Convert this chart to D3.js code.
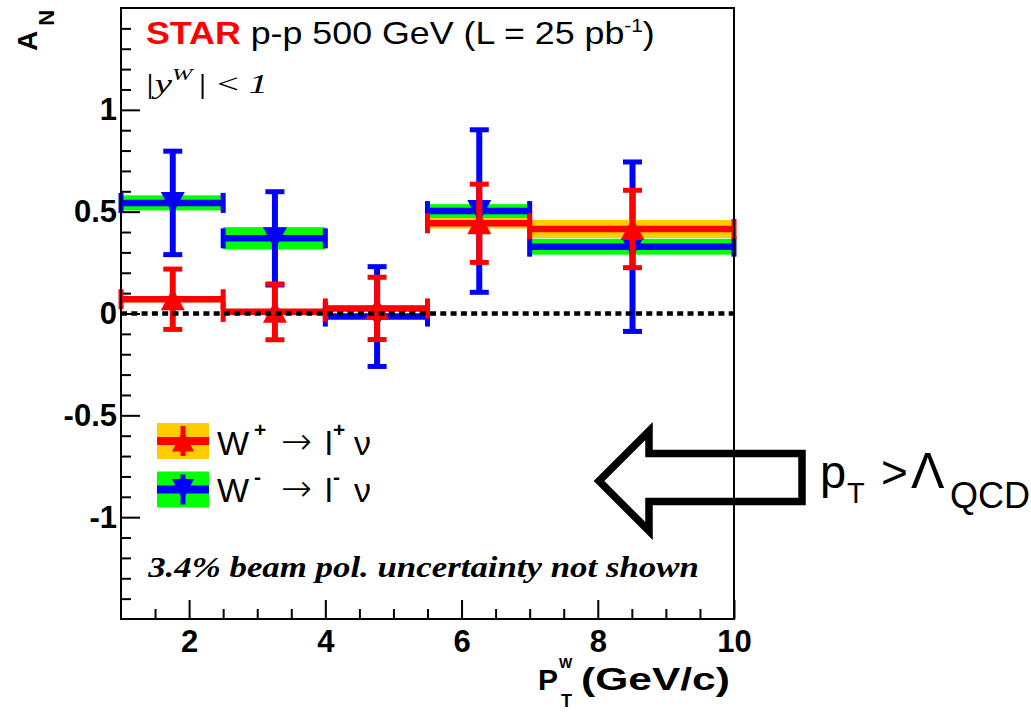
<!DOCTYPE html>
<html><head><meta charset="utf-8">
<script src="https://cdn.jsdelivr.net/npm/d3@7"></script>
<style>body{margin:0;background:#fff} svg{display:block}</style>
</head><body>
<svg id="c" width="1031" height="712"></svg>
<script>
// ---------- data ----------
const binLow  = [1, 2.5, 4, 5.5, 7];
const binHigh = [2.5, 4, 5.5, 7, 10];
const ptMean  = [1.76, 3.26, 4.76, 6.26, 8.51];
const wPlusAN   = [0.07, 0.008, 0.025, 0.443, 0.415];
const wPlusStat = [0.148, 0.137, 0.153, 0.192, 0.19];
const wPlusSys  = [0.015, 0.012, 0.015, 0.026, 0.044];
const wMinusAN   = [0.543, 0.369, -0.015, 0.503, 0.328];
const wMinusStat = [0.254, 0.229, 0.245, 0.399, 0.416];
const wMinusSys  = [0.037, 0.055, 0.012, 0.034, 0.039];
const xMajorTicks = [2, 4, 6, 8, 10];
const xTickLabels = ["2", "4", "6", "8", "10"];
const xMinorTicks = [1.5, 2.5, 3, 3.5, 4.5, 5, 5.5, 6.5, 7, 7.5, 8.5, 9, 9.5];
const yMajorTicks = [-1, -0.5, 0, 0.5, 1];
const yTickLabels = ["-1", "-0.5", "0", "0.5", "1"];
const yMinorTicks = [-1.4, -1.3, -1.2, -1.1, -0.9, -0.8, -0.7, -0.6, -0.4, -0.3, -0.2, -0.1,
                     0.1, 0.2, 0.3, 0.4, 0.6, 0.7, 0.8, 0.9, 1.1, 1.2, 1.3, 1.4];
const legendLabels = [["W", "+", "l", "+"], ["W", "-", "l", "-"]];

// ---------- layout ----------
const RED = "#ff0000", BLUE = "#0000ff", GREEN = "#00ff00", ORANGE = "#ffcc00";
const SANS = "'Liberation Sans', Arial, Helvetica, sans-serif";
const SERIF = "'Liberation Serif', 'Times New Roman', serif";
const svg = d3.select("#c");
const x = d3.scaleLinear().domain([1, 10]).range([121, 734]);
const y = d3.scaleLinear().domain([-1.5, 1.5]).range([619, 8]);

function fit(sel, x0, x1, base) {
  const bb = sel.node().getBBox();
  const s = (x1 - x0) / bb.width;
  sel.attr("transform", `translate(${x0 - bb.x * s},${base}) scale(${s},1)`);
  return s;
}

// ---------- axes ----------
function styleAxis(g) {
  g.select(".domain").remove();
  g.selectAll(".tick line").attr("stroke", "#000").attr("stroke-width", 2);
  g.selectAll(".tick text").attr("fill", "#000").attr("font-family", SANS)
    .attr("font-weight", "bold").attr("font-size", 31);
}
svg.append("g").attr("transform", `translate(0,${y(-1.5)})`)
  .call(d3.axisBottom(x).tickValues(xMinorTicks).tickSizeInner(-10).tickSizeOuter(0).tickFormat(""))
  .call(styleAxis);
svg.append("g").attr("transform", `translate(0,${y(-1.5)})`)
  .call(d3.axisBottom(x).tickValues(xMajorTicks).tickSizeInner(-19).tickSizeOuter(0).tickPadding(11)
    .tickFormat((d, i) => xTickLabels[i]))
  .call(styleAxis);
svg.append("g").attr("transform", `translate(${x(1)},0)`)
  .call(d3.axisLeft(y).tickValues(yMinorTicks).tickSizeInner(-10).tickSizeOuter(0).tickFormat(""))
  .call(styleAxis);
svg.append("g").attr("transform", `translate(${x(1)},0)`)
  .call(d3.axisLeft(y).tickValues(yMajorTicks).tickSizeInner(-19).tickSizeOuter(0).tickPadding(4)
    .tickFormat((d, i) => yTickLabels[i]))
  .call(styleAxis);

// ---------- data series ----------
function triPath(cx, cy, up, w, h) {
  const p = d3.path();
  if (up) { p.moveTo(cx, cy - h / 2); p.lineTo(cx + w / 2, cy + h / 2); p.lineTo(cx - w / 2, cy + h / 2); }
  else { p.moveTo(cx, cy + h / 2); p.lineTo(cx + w / 2, cy - h / 2); p.lineTo(cx - w / 2, cy - h / 2); }
  p.closePath();
  return p.toString();
}
function drawSeries(vals, stat, sys, bandColor, col, up) {
  const g = svg.append("g");
  g.selectAll("rect.band").data(vals).join("rect").attr("class", "band")
    .attr("x", (d, i) => x(binLow[i])).attr("width", (d, i) => x(binHigh[i]) - x(binLow[i]))
    .attr("y", (d, i) => y(d + sys[i])).attr("height", (d, i) => y(d - sys[i]) - y(d + sys[i]))
    .attr("fill", bandColor);
  g.selectAll("line.h").data(vals).join("line").attr("class", "h")
    .attr("x1", (d, i) => x(binLow[i])).attr("x2", (d, i) => x(binHigh[i]))
    .attr("y1", d => y(d)).attr("y2", d => y(d)).attr("stroke", col).attr("stroke-width", 6.5);
  [binLow, binHigh].forEach((edges, k) => {
    g.selectAll("line.e" + k).data(vals).join("line").attr("class", "e" + k)
      .attr("x1", (d, i) => x(edges[i])).attr("x2", (d, i) => x(edges[i]))
      .attr("y1", d => y(d) - 10).attr("y2", d => y(d) + 10)
      .attr("stroke", col).attr("stroke-width", 5);
  });
  g.selectAll("line.v").data(vals).join("line").attr("class", "v")
    .attr("x1", (d, i) => x(ptMean[i])).attr("x2", (d, i) => x(ptMean[i]))
    .attr("y1", (d, i) => y(d + stat[i])).attr("y2", (d, i) => y(d - stat[i]))
    .attr("stroke", col).attr("stroke-width", 6);
  [1, -1].forEach((sgn, k) => {
    g.selectAll("line.c" + k).data(vals).join("line").attr("class", "c" + k)
      .attr("x1", (d, i) => x(ptMean[i]) - 9.5).attr("x2", (d, i) => x(ptMean[i]) + 9.5)
      .attr("y1", (d, i) => y(d + sgn * stat[i])).attr("y2", (d, i) => y(d + sgn * stat[i]))
      .attr("stroke", col).attr("stroke-width", 5);
  });
  g.selectAll("path.m").data(vals).join("path").attr("class", "m")
    .attr("d", (d, i) => triPath(x(ptMean[i]), y(d), up, 24, 22)).attr("fill", col);
}
drawSeries(wMinusAN, wMinusStat, wMinusSys, GREEN, BLUE, false);
drawSeries(wPlusAN, wPlusStat, wPlusSys, ORANGE, RED, true);

// zero line
svg.append("line").attr("x1", x(1)).attr("x2", x(10)).attr("y1", y(0)).attr("y2", y(0))
  .attr("stroke", "#000").attr("stroke-width", 4.5).attr("stroke-dasharray", "6,4.3");

// frame
svg.append("rect").attr("x", x(1)).attr("y", y(1.5)).attr("width", x(10) - x(1)).attr("height", y(-1.5) - y(1.5))
  .attr("fill", "none").attr("stroke", "#000").attr("stroke-width", 2);

// ---------- texts ----------
// A_N
const an = svg.append("text").attr("transform", "translate(36.5,51) rotate(-90)")
  .attr("font-family", SANS).attr("font-weight", "bold").attr("fill", "#000");
an.append("tspan").attr("font-size", 28).text("A");
an.append("tspan").attr("font-size", 22).attr("dx", 5).attr("dy", 17).text("N");

// title
const title = svg.append("text").attr("font-family", SANS).attr("font-size", 31).attr("fill", "#000");
title.append("tspan").attr("font-weight", "bold").attr("fill", RED).text("STAR");
title.append("tspan").text(" p-p 500 GeV (L = 25 pb");
title.append("tspan").attr("font-size", 18).attr("dy", -12).text("-1");
title.append("tspan").attr("dy", 12).text(")");
fit(title, 146, 655, 44);

const yw = svg.append("text").attr("font-family", SERIF).attr("font-style", "italic").attr("font-size", 27).attr("fill", "#000");
yw.append("tspan").text("|y");
yw.append("tspan").attr("font-size", 17).attr("dy", -13).text("W");
yw.append("tspan").attr("dy", 13).attr("dx", 3).text("| ");
yw.append("tspan").attr("font-style", "normal").text("<");
yw.append("tspan").text(" 1");
fit(yw, 144, 268, 93);

// legend
function legendRow(cy, bandColor, col, up) {
  svg.append("rect").attr("x", 157).attr("y", cy - 18).attr("width", 52).attr("height", 36).attr("fill", bandColor);
  svg.append("line").attr("x1", 157).attr("x2", 209).attr("y1", cy).attr("y2", cy).attr("stroke", col).attr("stroke-width", 8);
  svg.append("line").attr("x1", 183).attr("x2", 183).attr("y1", cy - 15).attr("y2", cy + 15).attr("stroke", col).attr("stroke-width", 5);
  svg.append("path").attr("d", triPath(183, cy, up, 22, 21)).attr("fill", col);
}
legendRow(441, ORANGE, RED, true);
legendRow(489.5, GREEN, BLUE, false);
function legendText(parts, base) {
  const t = svg.append("text").attr("font-family", SANS).attr("font-size", 34).attr("fill", "#000");
  t.append("tspan").attr("x", 217).attr("y", base).text(parts[0]);
  t.append("tspan").attr("x", 254).attr("y", base - 18).attr("font-size", 21).attr("font-weight", "bold").text(parts[1]);
  t.append("tspan").attr("x", 281).attr("y", base - 1).attr("font-family", "'DejaVu Sans', sans-serif")
    .attr("font-size", 37).attr("font-weight", "300").text("\u2192");
  t.append("tspan").attr("x", 325).attr("y", base).text(parts[2]);
  t.append("tspan").attr("x", 333).attr("y", base - 18).attr("font-size", 21).attr("font-weight", "bold").text(parts[3]);
  t.append("tspan").attr("x", 354).attr("y", base).text("\u03bd");
  return t;
}
legendText(legendLabels[0], 455);
legendText(legendLabels[1], 501.5);

// note
const note = svg.append("text").attr("font-family", SERIF).attr("font-style", "italic").attr("font-weight", "bold")
  .attr("font-size", 29).attr("fill", "#000").text("3.4% beam pol. uncertainty not shown");
fit(note, 147, 699, 577);

// x title
const xt = svg.append("g").attr("font-family", SANS).attr("font-weight", "bold").attr("fill", "#000");
xt.append("text").attr("font-size", 30).attr("x", 538).attr("y", 690).text("P");
xt.append("text").attr("font-size", 14).attr("x", 559).attr("y", 668).text("W");
xt.append("text").attr("font-size", 18).attr("x", 561).attr("y", 707).text("T");
const unit = xt.append("text").attr("font-size", 32).text("(GeV/c)");
fit(unit, 581, 730, 690);

// annotation arrow
const arrowPts = [[599, 481], [649, 431], [649, 453.5], [802, 453.5], [802, 501.5], [649, 501.5], [649, 531]];
svg.append("path").attr("d", d3.line()(arrowPts) + "Z").attr("fill", "none")
  .attr("stroke", "#000").attr("stroke-width", 7.5).attr("stroke-linejoin", "miter").attr("stroke-miterlimit", 4);

const ann = svg.append("g").attr("font-family", SANS).attr("fill", "#000");
ann.append("text").attr("x", 820).attr("y", 488).attr("font-size", 47).text("p");
ann.append("text").attr("x", 847).attr("y", 503).attr("font-size", 29).text("T");
ann.append("text").attr("x", 881).attr("y", 488).attr("font-size", 46).text(">");
ann.append("text").attr("x", 911).attr("y", 488).attr("font-size", 50).text("\u039b");
ann.append("text").attr("x", 950).attr("y", 508).attr("font-size", 36).text("QCD");
</script>
</body></html>
